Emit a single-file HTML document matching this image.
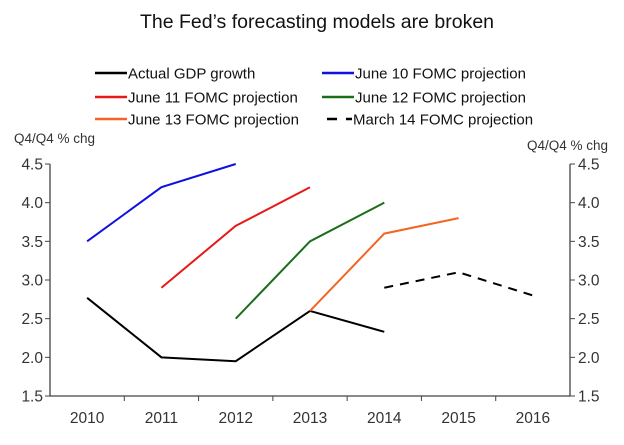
<!DOCTYPE html>
<html><head><meta charset="utf-8"><style>
body{margin:0;background:#fff;font-family:"Liberation Sans",Arial,sans-serif;}
</style></head><body>
<svg width="624" height="440" font-family="Liberation Sans, Arial, sans-serif">
<text x="317" y="28" text-anchor="middle" font-size="19.5" fill="#111">The Fed’s forecasting models are broken</text>
<g id="legend" font-size="15" fill="#111"></g>
<text x="14" y="143" font-size="13.5" fill="#333">Q4/Q4 % chg</text>
<text x="608" y="150" font-size="13.5" fill="#333" text-anchor="end">Q4/Q4 % chg</text>
<g id="axes"></g>
<g id="series"></g>
</svg>
<script>
const years=["2010","2011","2012","2013","2014","2015","2016"];
const yTicks=[1.5,2.0,2.5,3.0,3.5,4.0,4.5];
const actualGDP=[2.77,2.0,1.95,2.6,2.33,null,null];
const june10=[3.5,4.2,4.5,null,null,null,null];
const june11=[null,2.9,3.7,4.2,null,null,null];
const june12=[null,null,2.5,3.5,4.0,null,null];
const june13=[null,null,null,2.6,3.6,3.8,null];
const march14=[null,null,null,null,2.9,3.1,2.8];
const seriesNames=["Actual GDP growth","June 10 FOMC projection","June 11 FOMC projection","June 12 FOMC projection","June 13 FOMC projection","March 14 FOMC projection"];

const NS="http://www.w3.org/2000/svg";
const L=50,R=570,T=164,B=396,yMin=1.5,yMax=4.5;
const bw=(R-L)/years.length;
const xs=i=>L+bw*(i+0.5);
const ys=v=>B-(v-yMin)/(yMax-yMin)*(B-T);
function mk(tag,attrs,parent){const e=document.createElementNS(NS,tag);for(const k in attrs)e.setAttribute(k,attrs[k]);parent.appendChild(e);return e;}
const ax=document.getElementById('axes');
let e;
e=mk('path',{d:`M${L} ${T}V${B}H${R}V${T}`,stroke:'#444',fill:'none','stroke-width':1.3},ax);


yTicks.forEach(v=>{
 const y=ys(v);
 e=mk('line',{x1:L-5,x2:L,y1:y,y2:y,stroke:'#444'},ax);
 
 
 e=mk('line',{x1:R,x2:R+5,y1:y,y2:y,stroke:'#444'},ax);
 
 
 e=mk('text',{x:L-7,y:y+5.5,'text-anchor':'end','font-size':15.5,fill:'#333'},ax);e.textContent=v.toFixed(1);
 
 
 e=mk('text',{x:R+8,y:y+5.5,'font-size':15.5,fill:'#333'},ax);e.textContent=v.toFixed(1);
 
 
});
years.forEach((yr,i)=>{
 if(i>0){e=mk('line',{x1:L+bw*i,x2:L+bw*i,y1:B,y2:B+5,stroke:'#444'},ax);
 
 }
 e=mk('text',{x:xs(i),y:B+27,'text-anchor':'middle','font-size':15.5,fill:'#333'},ax);e.textContent=yr;
 
 
});
const sg=document.getElementById('series');
const defs=[[actualGDP,'#000',null,'actual-gdp-line'],[june10,'#1010e0',null,'june10-line'],[june11,'#e81818',null,'june11-line'],[june12,'#1a6e1a',null,'june12-line'],[june13,'#f26522',null,'june13-line'],[march14,'#000','9 7','march14-line']];
defs.forEach(([d,c,dash,name])=>{
 let p='';d.forEach((v,i)=>{if(v!=null)p+=(p?'L':'M')+xs(i)+' '+ys(v);});
 const a={d:p,stroke:c,fill:'none','stroke-width':2};if(dash)a['stroke-dasharray']=dash;
 e=mk('path',a,sg);
 
 
});
const lg=document.getElementById('legend');
const lpos=[[95,73],[322,73],[95,97],[322,97],[95,119],[327,119]];
lpos.forEach(([x,y],k)=>{
 const len=k===5?25:32;
 const a={x1:x,x2:x+len,y1:y,y2:y,stroke:defs[k][1],'stroke-width':2.4};if(defs[k][2])a['stroke-dasharray']='10 9';
 e=mk('line',a,lg);
 
 
 e=mk('text',{x:x+len+1,y:y+5.5},lg);e.textContent=seriesNames[k];
 
 
});
</script>
</body></html>
